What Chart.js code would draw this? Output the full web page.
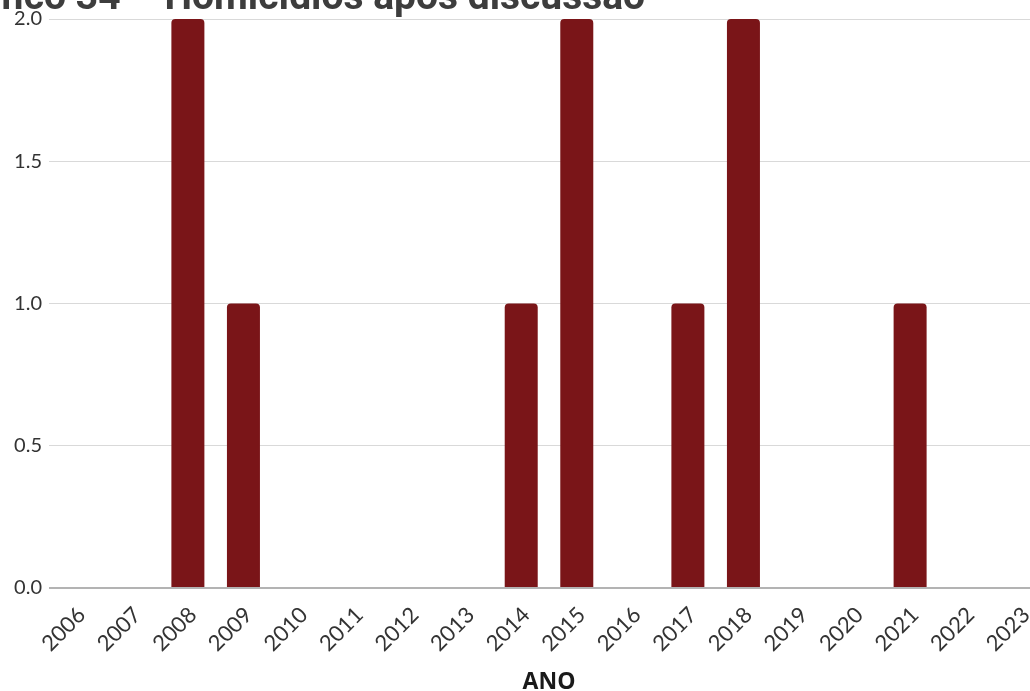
<!DOCTYPE html>
<html>
<head>
<meta charset="utf-8">
<script src="https://cdn.jsdelivr.net/npm/chart.js@4.4.1/dist/chart.umd.min.js"></script>
<style>
  html, body { margin: 0; padding: 0; background: #ffffff; width: 1030px; height: 691px; overflow: hidden; }
  #wrap { position: absolute; left: 0; top: 0; width: 1050px; height: 691px; }
  #title { position: absolute; top: -23px; left: -56px; white-space: nowrap; margin: 0;
           font-family: Roboto, "Liberation Sans", sans-serif; font-weight: 700; font-size: 39px;
           line-height: 39px; color: #3d3d3d; letter-spacing: 0; z-index: 2; }
</style>
</head>
<body>
<h1 id="title"><span id="hidden">Grá</span>fico 34 – Homicídios após discussão</h1>
<div id="wrap"><canvas id="c"></canvas></div>
<script>
const anos = ['2006','2007','2008','2009','2010','2011','2012','2013','2014','2015','2016','2017','2018','2019','2020','2021','2022','2023'];
const homicidios = [0, 0, 2, 1, 0, 0, 0, 0, 1, 2, 0, 1, 2, 0, 0, 1, 0, 0];
const yTicks = [0, 0.5, 1.0, 1.5, 2.0];
const tituloEixoX = 'ANO';

// align the clipped title so that "fico" starts at the left edge
const t = document.getElementById('title');
t.style.left = (-document.getElementById('hidden').getBoundingClientRect().width) + 'px';

new Chart(document.getElementById('c'), {
  type: 'bar',
  data: {
    labels: anos,
    datasets: [{
      data: homicidios,
      backgroundColor: '#7a1518',
      borderWidth: 0,
      borderRadius: { topLeft: 4, topRight: 4, bottomLeft: 0, bottomRight: 0 },
      borderSkipped: 'start',
      categoryPercentage: 1.0,
      barPercentage: 0.594
    }]
  },
  options: {
    responsive: true,
    maintainAspectRatio: false,
    animation: false,
    layout: { padding: { top: 18, right: 1, bottom: 0, left: 0 } },
    plugins: { legend: { display: false }, tooltip: { enabled: false }, title: { display: false } },
    scales: {
      x: {
        grid: { display: false, drawTicks: false },
        border: { display: false },
        ticks: {
          color: '#333333', font: { family: 'Lato, "Open Sans", sans-serif', size: 22 },
          maxRotation: 45, minRotation: 45, padding: 14, labelOffset: 5, autoSkip: false
        },
        title: {
          display: true, text: tituloEixoX, color: '#1a1a1a',
          font: { family: '"Open Sans", Lato, sans-serif', size: 23, weight: '700', lineHeight: 1 },
          padding: { top: 0, bottom: -3 }
        },
        afterFit: (s) => { s.height = 103; s.paddingLeft = 0; s.paddingRight = 0; }
      },
      y: {
        min: 0, max: 2,
        afterBuildTicks: (s) => { s.ticks = yTicks.map(v => ({ value: v })); },
        grid: {
          drawTicks: false,
          color: (c) => c.tick && c.tick.value === 0 ? '#b3b3b3' : '#d9d9d9',
          lineWidth: (c) => c.tick && c.tick.value === 0 ? 2 : 1
        },
        border: { display: false },
        ticks: {
          color: '#333333', font: { family: 'Lato, "Open Sans", sans-serif', size: 20, weight: '400' },
          padding: 7,
          callback: (v) => Number(v).toFixed(1)
        },
        afterFit: (s) => { s.width = 49; }
      }
    }
  }
});
</script>
</body>
</html>
